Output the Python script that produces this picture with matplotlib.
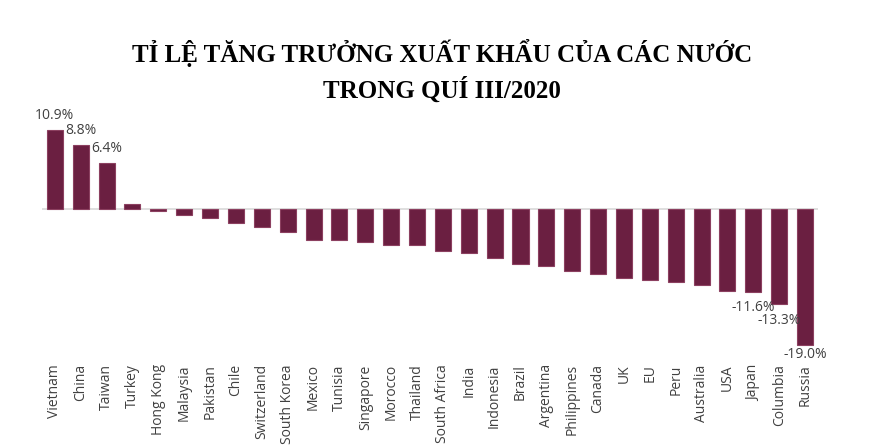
import matplotlib.pyplot as plt

countries = ["Vietnam", "China", "Taiwan", "Turkey", "Hong Kong", "Malaysia", "Pakistan",
             "Chile", "Switzerland", "South Korea", "Mexico", "Tunisia", "Singapore",
             "Morocco", "Thailand", "South Africa", "India", "Indonesia", "Brazil",
             "Argentina", "Philippines", "Canada", "UK", "EU", "Peru", "Australia",
             "USA", "Japan", "Columbia", "Russia"]
growth = [10.9, 8.8, 6.4, 0.6, -0.3, -0.9, -1.3,
          -2.0, -2.6, -3.2, -4.3, -4.4, -4.6,
          -5.0, -5.1, -5.9, -6.1, -6.8, -7.7,
          -7.9, -8.7, -9.1, -9.7, -9.9, -10.2, -10.6,
          -11.5, -11.6, -13.3, -19.0]
labelled = ["Vietnam", "China", "Taiwan", "Japan", "Columbia", "Russia"]

fig = plt.figure(figsize=(8.92, 4.46), dpi=100)
ax = fig.add_axes([0.047, 0.2175, 0.87, 0.50])

x = range(len(countries))
ax.bar(x, growth, width=0.62, color="#6b1f41", edgecolor="#8c4060", linewidth=0.8, zorder=3)
ax.axhline(0, color="#d9d9d9", linewidth=1.2, zorder=2)

for i, (c, v) in enumerate(zip(countries, growth)):
    if c in labelled:
        if v > 0:
            ax.annotate(f"{v:.1f}%", (i, v), xytext=(0, 5), textcoords="offset points",
                        ha="center", va="bottom", fontsize=10, family="Open Sans",
                        color="#404040")
        else:
            off = -1 if c == "Russia" else -6
            ax.annotate(f"{v:.1f}%", (i, v), xytext=(0, off), textcoords="offset points",
                        ha="center", va="top", fontsize=10, family="Open Sans",
                        color="#404040")

ax.set_xlim(-0.5, len(countries) - 0.5)
ax.set_ylim(-19.5, 11.5)
ax.set_xticks(list(x))
ax.set_xticklabels(countries, rotation=90, fontsize=10, family="Open Sans", color="#404040")
ax.tick_params(axis="x", length=0, pad=11)
ax.set_yticks([])
for s in ax.spines.values():
    s.set_visible(False)

fig.text(0.496, 0.84, "TỈ LỆ TĂNG TRƯỞNG XUẤT KHẨU CỦA CÁC NƯỚC\nTRONG QUÍ III/2020",
         ha="center", va="center", fontsize=18, fontweight="bold",
         family="Liberation Serif", linespacing=1.45)

fig.savefig("out.png", dpi=100)
